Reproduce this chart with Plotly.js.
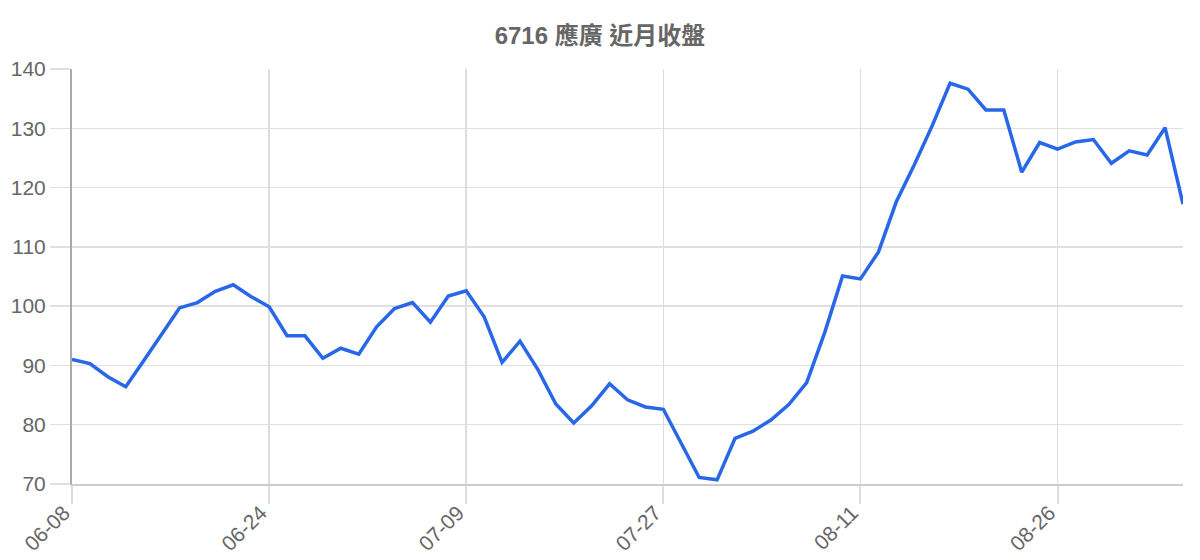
<!DOCTYPE html>
<html>
<head>
<meta charset="utf-8">
<script src="https://cdn.plot.ly/plotly-3.0.1.min.js"></script>
<style>html,body{margin:0;padding:0;background:#fff;}#chart{width:1200px;height:560px;}</style>
</head>
<body>
<div id="chart"></div>
<script>
const chartTitle = "6716 應廣 近月收盤";
const dates = [
  "06-08","06-09","06-10","06-11","06-15","06-16","06-17","06-18","06-21","06-22","06-23",
  "06-24","06-25","06-28","06-29","06-30","07-01","07-02","07-05","07-06","07-07","07-08",
  "07-09","07-12","07-13","07-14","07-15","07-16","07-19","07-20","07-21","07-22","07-23",
  "07-27","07-28","07-29","07-30","08-02","08-03","08-04","08-05","08-06","08-09","08-10",
  "08-11","08-12","08-13","08-16","08-17","08-18","08-19","08-20","08-23","08-24","08-25",
  "08-26","08-27","08-30","08-31","09-01","09-02","09-03","09-06"
];
const closes = [
  91.0, 90.3, 88.1, 86.4, 90.8, 95.2, 99.7, 100.6, 102.5, 103.6, 101.6,
  99.9, 95.0, 95.0, 91.2, 92.9, 91.9, 96.5, 99.6, 100.6, 97.3, 101.7,
  102.6, 98.2, 90.5, 94.1, 89.3, 83.5, 80.3, 83.2, 86.9, 84.2, 83.0,
  82.6, 76.9, 71.1, 70.7, 77.7, 78.9, 80.8, 83.4, 87.1, 95.5, 105.1,
  104.6, 109.1, 117.6, 123.8, 130.4, 137.6, 136.6, 133.1, 133.1, 122.6, 127.6,
  126.5, 127.7, 128.1, 124.1, 126.2, 125.5, 130.1, 117.2
];
const yTicks = [70, 80, 90, 100, 110, 120, 130, 140];
const xTickDates = ["06-08","06-24","07-09","07-27","08-11","08-26"];

const fontFam = "Liberation Sans, Arial, Noto Sans CJK TC, sans-serif";
Plotly.newPlot("chart", [{
  x: dates, y: closes, type: "scatter", mode: "lines",
  line: {color: "#2767e8", width: 3.5}, hoverinfo: "x+y"
}], {
  width: 1200, height: 560,
  margin: {l: 72, r: 17, t: 69, b: 76},
  paper_bgcolor: "#fff", plot_bgcolor: "#fff",
  showlegend: false,
  title: {text: "<b>" + chartTitle + "</b>", x: 0.5, xanchor: "center", y: 0.937, yanchor: "middle",
          font: {family: fontFam, size: 24, color: "#666"}},
  xaxis: {
    type: "category", tickmode: "array", tickvals: xTickDates,
    ticktext: xTickDates.map(d => d + "\u00a0\u00a0"),
    range: [0, dates.length - 1],
    showgrid: true, gridcolor: "#dddddd", gridwidth: 1.5,
    ticks: "outside", ticklen: 18, tickcolor: "#dddddd", tickwidth: 2,
    ticklabelstandoff: -20,
    tickangle: -45, tickfont: {family: fontFam, size: 21, color: "#666"},
    showline: true, linecolor: "#cccccc", linewidth: 2, zeroline: false, automargin: false
  },
  yaxis: {
    range: [70, 140], tickmode: "array", tickvals: yTicks,
    showgrid: true, gridcolor: "#e0e0e0", gridwidth: 1.5,
    ticks: "outside", ticklen: 20, tickcolor: "#e0e0e0", tickwidth: 1.5,
    tickfont: {family: fontFam, size: 21, color: "#666"},
    showline: true, linecolor: "#aaaaaa", linewidth: 2, zeroline: false, automargin: false
  }
}, {displayModeBar: false, staticPlot: true});
</script>
</body>
</html>
